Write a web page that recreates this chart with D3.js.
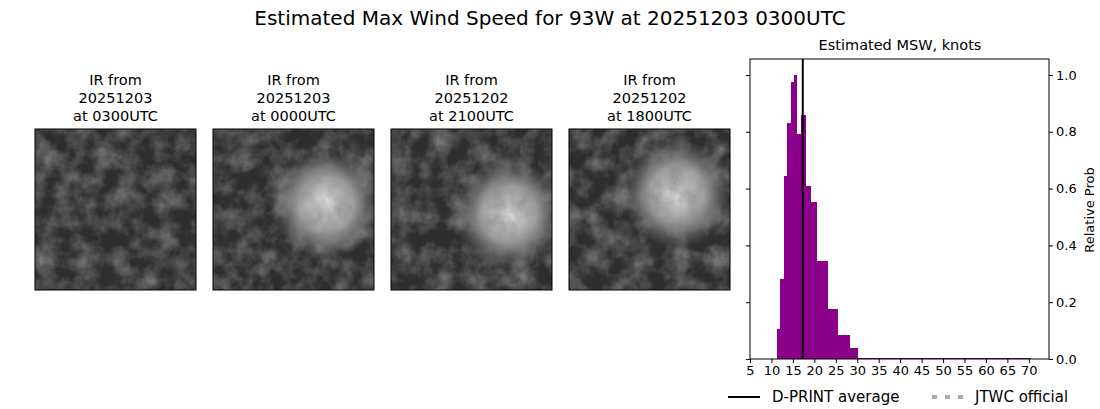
<!DOCTYPE html><html><head><meta charset="utf-8"><script src="https://cdn.jsdelivr.net/npm/d3@7"></script>
<style>body{margin:0;background:#fff}text{font-family:"DejaVu Sans",sans-serif}</style></head><body>
<svg id="c" width="1100" height="409"></svg>
<script>
const binEdges=[11.25,12.0,13.0,13.7,14.6,15.3,15.9,16.9,18.05,19.2,20.6,23.0,25.3,28.2,30.0,70.5];
const binProbs=[0.105,0.28,0.643,0.831,0.974,1.0,0.794,0.859,0.608,0.552,0.346,0.177,0.084,0.037,0.005];
const dprintAvg=17.3;
const xTicks=d3.range(5,71,5);
const yTicks=[0,0.2,0.4,0.6,0.8,1.0];
const panels=[["20251203","0300UTC"],["20251203","0000UTC"],["20251202","2100UTC"],["20251202","1800UTC"]];
const svg=d3.select("#c");
svg.append("text").attr("x",550).attr("y",25).attr("text-anchor","middle").attr("font-size",20).text("Estimated Max Wind Speed for 93W at 20251203 0300UTC");
const defs=svg.append("defs");
const px=[35,213,391,569];
panels.forEach((p,i)=>{
 const f=defs.append("filter").attr("id","f"+i).attr("x",0).attr("y",0).attr("width",1).attr("height",1);
 f.append("feTurbulence").attr("type","fractalNoise").attr("baseFrequency",0.05).attr("numOctaves",4).attr("seed",i*7+3);
 f.append("feColorMatrix").attr("type","matrix").attr("values","0 0 0 0 0.25  0 0 0 0 0.25  0 0 0 0 0.25  1.6 0 0 0 -0.55");
 defs.append("clipPath").attr("id","cp"+i).append("rect").attr("width",161).attr("height",161);
 const g=svg.append("g").attr("transform",`translate(${px[i]},129)`).attr("clip-path",`url(#cp${i})`);
 g.append("rect").attr("width",161).attr("height",161).attr("fill","#2e2e2e");
 const cl=[[0,0],[95,70],[100,80],[90,60]][i];
 if(i>0){const rg=defs.append("radialGradient").attr("id","r"+i);
  rg.append("stop").attr("offset","0").attr("stop-color","#ddd");rg.append("stop").attr("offset","0.5").attr("stop-color","#bbb").attr("stop-opacity",0.8);rg.append("stop").attr("offset","1").attr("stop-color","#888").attr("stop-opacity",0);
  g.append("circle").attr("cx",cl[0]+18).attr("cy",cl[1]+5).attr("r",55).attr("fill",`url(#r${i})`);}
 g.append("rect").attr("width",161).attr("height",161).attr("fill","#fff").attr("filter",`url(#f${i})`).attr("opacity",0.9);
 svg.append("rect").attr("x",px[i]).attr("y",129).attr("width",161).attr("height",161).attr("fill","none").attr("stroke","#000");
 ["IR from",p[0],"at "+p[1]].forEach((t,k)=>svg.append("text").attr("x",px[i]+80.5).attr("y",85+k*18).attr("text-anchor","middle").attr("font-size",14.5).text(t));
});
const L=750,R=1049,T=59,B=359;
const x=d3.scaleLinear().domain([5,74.7]).range([L,R]);
const y=d3.scaleLinear().domain([0,1.05]).range([B,B-298.2]);
svg.append("g").attr("shape-rendering","crispEdges").selectAll("rect").data(binProbs).join("rect").attr("x",(d,i)=>x(binEdges[i])).attr("width",(d,i)=>x(binEdges[i+1])-x(binEdges[i])+0.5).attr("y",d=>y(d)).attr("height",d=>B-y(d)).attr("fill","#8b008b");
svg.append("line").attr("x1",x(dprintAvg)).attr("x2",x(dprintAvg)).attr("y1",T).attr("y2",B).attr("stroke","#000").attr("stroke-width",2);
svg.append("rect").attr("x",L).attr("y",T).attr("width",R-L).attr("height",B-T).attr("fill","none").attr("stroke","#000");
svg.append("g").attr("transform",`translate(0,${B})`).call(d3.axisBottom(x).tickValues(xTicks).tickSize(4).tickSizeOuter(0)).call(g=>{g.select(".domain").remove();g.selectAll("text").attr("font-size",13).attr("font-family","DejaVu Sans")});
svg.append("g").attr("transform",`translate(${R},0)`).call(d3.axisRight(y).tickValues(yTicks).tickFormat(d3.format(".1f")).tickSize(4)).call(g=>{g.select(".domain").remove();g.selectAll("text").attr("font-size",13).attr("font-family","DejaVu Sans")});
svg.append("g").call(d3.axisLeft(y).tickValues(yTicks).tickFormat("").tickSize(4)).attr("transform",`translate(${L},0)`).select(".domain").remove();
svg.append("text").attr("x",900).attr("y",50).attr("text-anchor","middle").attr("font-size",14.5).text("Estimated MSW, knots");
svg.append("text").attr("transform","translate(1094,210) rotate(-90)").attr("text-anchor","middle").attr("font-size",13).text("Relative Prob");
svg.append("line").attr("x1",728).attr("x2",760).attr("y1",397).attr("y2",397).attr("stroke","#000").attr("stroke-width",2);
svg.append("text").attr("x",772).attr("y",402).attr("font-size",15).text("D-PRINT average");
svg.append("line").attr("x1",932).attr("x2",965).attr("y1",397).attr("y2",397).attr("stroke","#aaa").attr("stroke-width",4).attr("stroke-dasharray","5,8");
svg.append("text").attr("x",975).attr("y",402).attr("font-size",15).text("JTWC official");
</script></body></html>
